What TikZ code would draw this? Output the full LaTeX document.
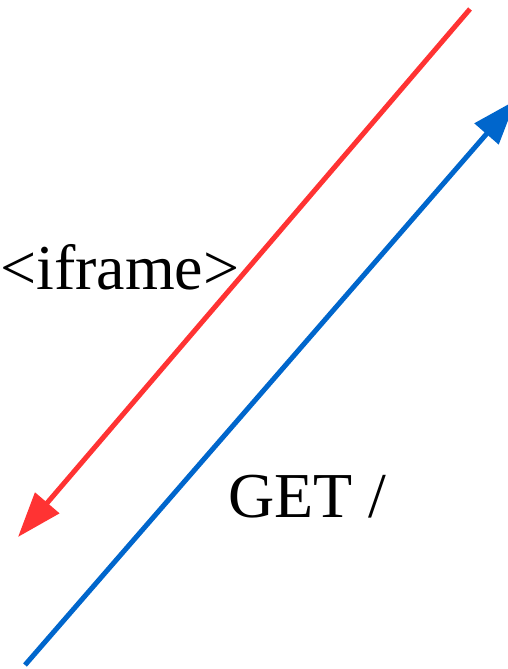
\documentclass[tikz,border=0pt]{standalone}
\usepackage{fontspec}
\setmainfont{Liberation Serif}
\usetikzlibrary{arrows.meta}
\definecolor{respred}{HTML}{FF3333}
\definecolor{reqblue}{HTML}{0066CC}

\begin{document}
\begin{tikzpicture}[
  x=1pt, y=-1pt,
  every node/.style={font=\fontsize{64}{70}\selectfont, inner sep=0pt, anchor=base west},
  msg/.style={line width=5pt, -{Triangle[length=45pt, width=31pt]}},
]
  \useasboundingbox (0,0) rectangle (508,669);
  \clip (0,0) rectangle (508,669);

  % server -> client
  \coordinate (srvTop) at (470,9);
  \coordinate (cliMid) at (18,537);
  % client -> server
  \coordinate (cliBot) at (25,665);
  \coordinate (srvMid) at (516,100);

  \draw[msg, respred] (srvTop) -- (cliMid);
  \draw[msg, reqblue] (cliBot) -- (srvMid);

  \node (resp) at (0,289) {<iframe>};
  \node (req)  at (228,517) {GET /};
\end{tikzpicture}
\end{document}
